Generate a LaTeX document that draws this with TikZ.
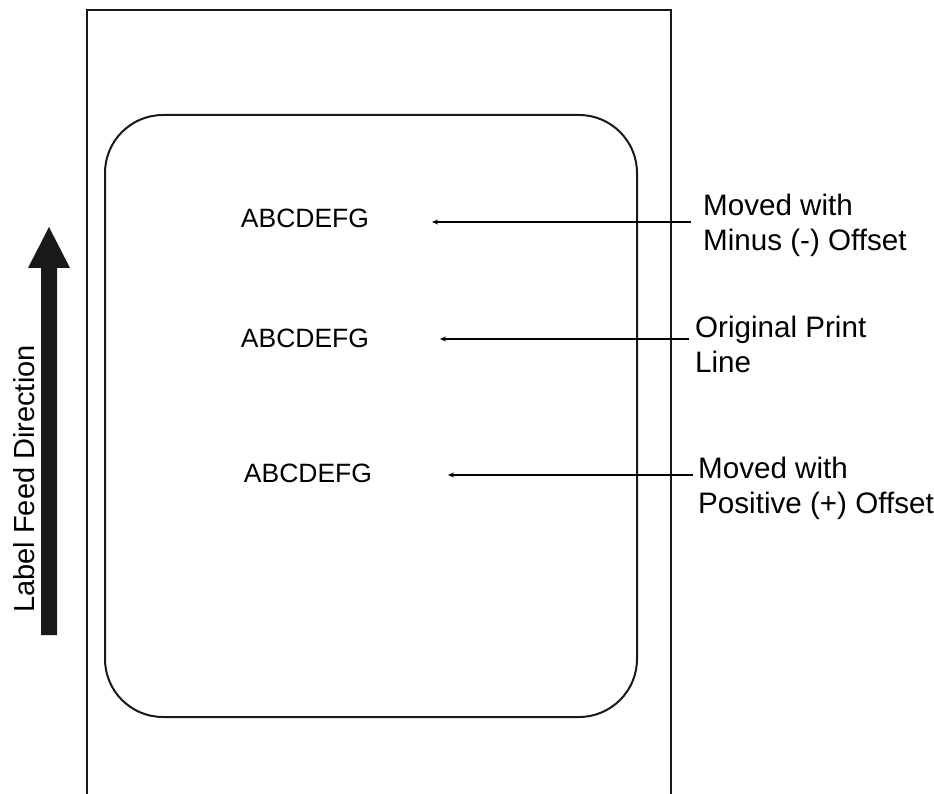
\documentclass[tikz,border=0pt]{standalone}
\usepackage{fontspec}
\setmainfont{Liberation Sans}
\usetikzlibrary{arrows.meta, positioning}

\begin{document}
\begin{tikzpicture}[x=1pt, y=-1pt,
  outline/.style={line width=2pt, draw=black!90},
  ptr/.style={line width=1.8pt, -{Stealth[length=6pt, width=5pt]}},
  sample/.style={font=\fontsize{26.5}{30}\selectfont, inner sep=0pt, anchor=base},
  note/.style={font=\fontsize{29.6}{35}\selectfont, inner sep=0pt, align=left, anchor=west}]

\useasboundingbox (0,0) rectangle (934,794);

% Label stock (open at the bottom)
\draw[outline] (87,794) -- (87,10) -- (671,10) -- (671,794);
% Printable area
\draw[outline, rounded corners=58pt] (105,115) rectangle (637,717);

% Feed direction arrow
\fill[black!90] (41,635) -- (41,268) -- (28,268) -- (49,227) -- (70,268) -- (57,268) -- (57,635) -- cycle;
\node[font=\fontsize{29}{32}\selectfont, inner sep=0pt, rotate=90, anchor=base] (feed) at (34,479) {Label Feed Direction};

% Sample print lines
\node[sample] (abcMinus) at (305,228) {ABCDEFG};
\node[sample] (abcOrig) at (305,347) {ABCDEFG};
\node[sample] (abcPlus) at (308,482) {ABCDEFG};

% Explanations
\node[note] (minus) at (703,225) {Moved with\\Minus (-) Offset};
\node[note] (orig) at (695,344) {Original Print\\Line};
\node[note] (plus) at (698,488) {Moved with\\Positive (+) Offset};

% Pointers
\coordinate (tipMinus) at (432,222);
\coordinate (tipOrig) at (440,339);
\coordinate (tipPlus) at (448,475);
\draw[ptr] ([xshift=-12pt]minus.west |- tipMinus) -- (tipMinus);
\draw[ptr] ([xshift=-6pt]orig.west |- tipOrig) -- (tipOrig);
\draw[ptr] ([xshift=-5pt]plus.west |- tipPlus) -- (tipPlus);

\end{tikzpicture}
\end{document}
